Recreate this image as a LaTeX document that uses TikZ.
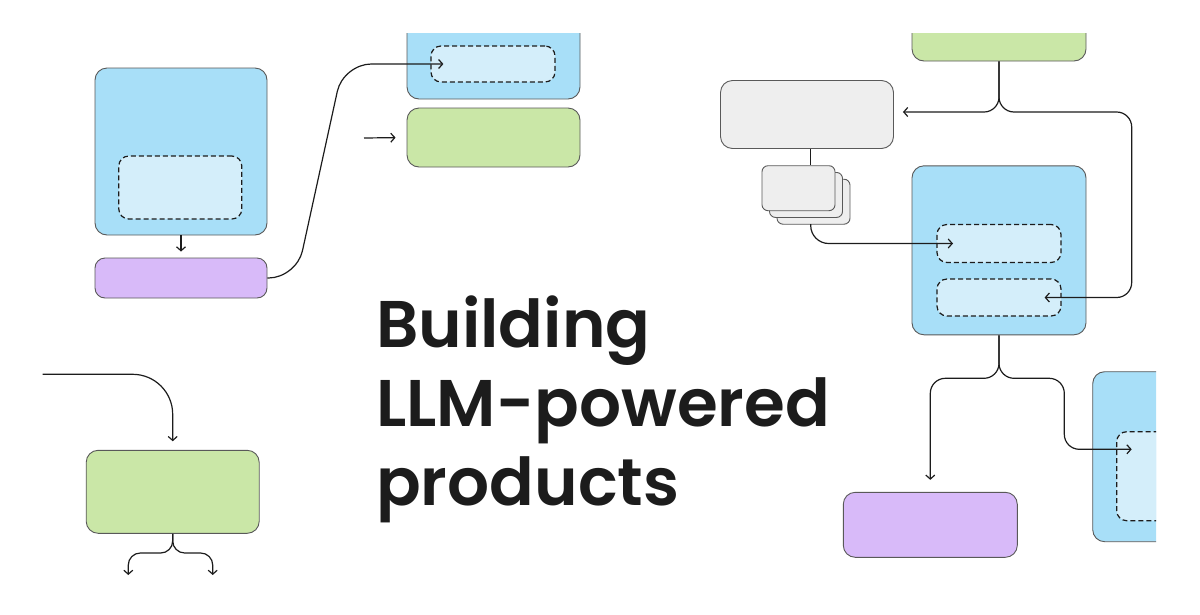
\documentclass[tikz,border=0pt]{standalone}
\usepackage{fontspec}
\newfontfamily\titlefont{Poppins SemiBold}
\usetikzlibrary{arrows.meta, calc}

\definecolor{skyblue}{HTML}{A8DFF8}
\definecolor{paleblue}{HTML}{D4EEFA}
\definecolor{leafgreen}{HTML}{CAE7A7}
\definecolor{lilac}{HTML}{D8BAF9}
\definecolor{cloud}{HTML}{EEEEEE}
\definecolor{ink}{HTML}{1C1C1C}

\begin{document}
\begin{tikzpicture}[x=1pt, y=-1pt,
    box/.style={draw=black!65, line width=0.9pt, rounded corners=12pt, inner sep=0pt},
    slot/.style={draw=ink, fill=paleblue, dash pattern=on 5pt off 3pt, line width=1.2pt, rounded corners=10pt, inner sep=0pt},
    link/.style={draw=ink, line width=1.2pt},
    arr/.style={link, -{Straight Barb[length=4pt, width=9pt]}},
    title/.style={anchor=base west, inner sep=0pt, text=ink, font=\titlefont\fontsize{66}{79}\selectfont}]
  \useasboundingbox (0,0) rectangle (1200,614);

  \begin{scope}
    \clip (0,33) rectangle (1156,614);

    % left column
    \node[box, fill=skyblue, minimum width=172pt, minimum height=167pt] (ctxA) at (181,151.5) {};
    \node[slot, minimum width=123pt, minimum height=63pt] (slotA) at (180.3,187.5) {};
    \node[box, fill=lilac, rounded corners=10pt, minimum width=172pt, minimum height=40pt] (llmA) at (181,278) {};
    \node[box, fill=leafgreen, minimum width=173pt, minimum height=83pt] (outL) at (172.7,491.8) {};

    % middle column
    \node[box, fill=skyblue, minimum width=173pt, minimum height=119pt] (ctxTop) at (493.5,39.5) {};
    \node[slot, minimum width=124pt, minimum height=36pt] (slotTop) at (493,64) {};
    \node[box, fill=leafgreen, minimum width=173pt, minimum height=59pt] (outTop) at (493.5,137.5) {};

    % right column
    \node[box, fill=leafgreen, minimum width=174pt, minimum height=81pt] (outR) at (999,20.5) {};
    \node[box, fill=cloud, minimum width=173pt, minimum height=68pt] (storeR) at (807,114.5) {};
    \foreach \i/\d in {3/15, 2/7.5, 1/0}
      \node[box, fill=cloud, rounded corners=6pt, minimum width=73pt, minimum height=45pt] (card\i) at ({798.5+\d},{188.2+0.9*\d}) {};
    \node[box, fill=skyblue, minimum width=174pt, minimum height=169pt] (ctxB) at (999,250.3) {};
    \node[slot, minimum width=124pt, minimum height=38pt] (slotB1) at (999,243.5) {};
    \node[slot, minimum width=124pt, minimum height=37pt] (slotB2) at (999,297.5) {};
    \node[box, fill=lilac, minimum width=174pt, minimum height=65pt] (llmR) at (930.3,524.8) {};
    \node[box, fill=skyblue, minimum width=174pt, minimum height=170pt] (ctxC) at (1179.7,456.7) {};
    \node[slot, minimum width=124pt, minimum height=89pt] (slotC) at (1178.7,476.2) {};

    \coordinate (inTop) at (364,138);
    \coordinate (forkR) at (999,112);
    \coordinate (stack) at (810.7,224.2);
    \coordinate (forkB) at (999,378.3);
    \coordinate (inC) at (1131.7,449.3);
    \coordinate (inL) at (42.7,374.3);
    \coordinate (forkL) at (172.7,553);
    \coordinate (outL1) at (128.3,575);
    \coordinate (outL2) at (212.7,575);

    % connectors
    \draw[arr, shorten >=6pt] (ctxA) -- (llmA);
    \draw[arr, rounded corners=28pt, shorten >=-13pt] (llmA.east) -- (296.5,278) -- (343.3,64) -- (slotTop.west);
    \draw[arr, shorten >=11pt] (inTop) -- (outTop.west);
    \draw[arr, rounded corners=15pt, shorten >=9pt] (outR.south) -- (forkR) -- (forkR -| storeR.east);
    \draw[arr, rounded corners=15pt, shorten >=-17pt] (outR.south) -- (forkR) -| (1131.7,297.5) -- (slotB2.east);
    \draw[link] (stack |- storeR.south) -- (stack |- card1.north);
    \draw[arr, rounded corners=18pt, shorten >=-16.6pt] (stack) |- (slotB1.west);
    \draw[arr, rounded corners=15pt, shorten >=12pt] (ctxB.south) -- (forkB) -| (llmR.north);
    \draw[arr, rounded corners=15pt] (ctxB.south) -- (forkB) -| (1064.3,449.3) -- (inC);
    \draw[arr, rounded corners=40pt, shorten >=8.6pt] (inL) -| (outL.north);
    \draw[arr, rounded corners=12pt] (outL.south) -- (forkL) -| (outL1);
    \draw[arr, rounded corners=12pt] (outL.south) -- (forkL) -| (outL2);
  \end{scope}

  % title
  \node[title] (title1) at (376,347) {Building};
  \node[title] (title2) at (376,426) {LLM-powered};
  \node[title] (title3) at (376,505) {products};
\end{tikzpicture}
\end{document}
